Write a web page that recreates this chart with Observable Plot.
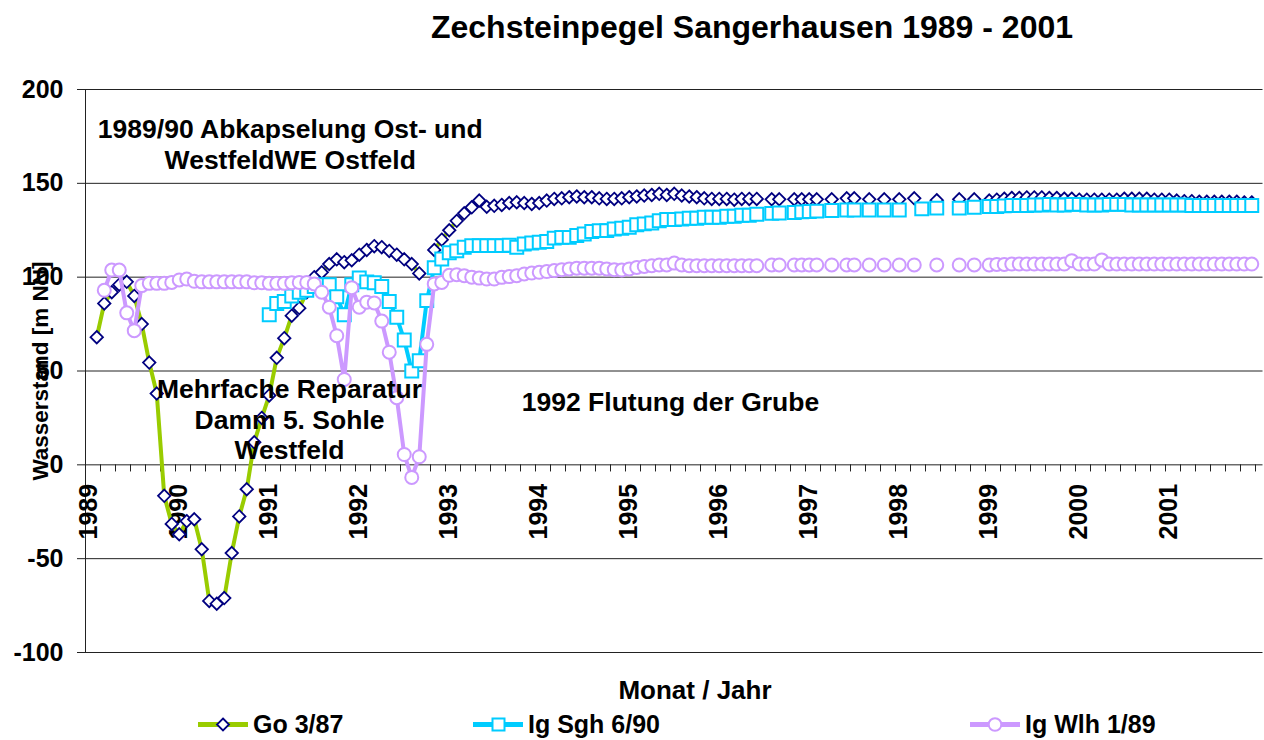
<!DOCTYPE html>
<html><head><meta charset="utf-8">
<script src="https://cdn.jsdelivr.net/npm/d3@7"></script>
<script src="https://cdn.jsdelivr.net/npm/@observablehq/plot@0.6"></script>
<style>
body{margin:0;background:#fff;font-family:"Liberation Sans",Arial,sans-serif;}
#wrap{position:relative;width:1264px;height:740px;overflow:hidden;}
.t{position:absolute;font-weight:bold;white-space:nowrap;color:#000;}
#title{left:0;width:1504px;text-align:center;top:11px;font-size:32px;line-height:32px;}
#xlabel{left:0;width:1390px;text-align:center;top:677px;font-size:26px;line-height:26px;}
.leg{position:absolute;top:712px;height:25px;display:flex;align-items:center;font-weight:bold;font-size:25px;line-height:25px;white-space:nowrap;}
.leg svg{margin-right:4px;}
#chart{position:absolute;left:0;top:0;}
</style></head><body>
<div id="wrap">
<div id="chart"></div>
<div id="title" class="t">Zechsteinpegel Sangerhausen 1989 - 2001</div>
<div id="xlabel" class="t">Monat / Jahr</div>
<div id="legend"></div>
</div>
<script>
// categories: months from January 1989 (index 0) to January 2002
const firstYear = 1989;
const nMonths = 157;
const yearLabels = ["1989","1990","1991","1992","1993","1994","1995","1996","1997","1998","1999","2000","2001"];
const yTicks = [-100, -50, 0, 50, 100, 150, 200];
const seriesNames = ["Go 3/87", "Ig Sgh 6/90", "Ig Wlh 1/89"];

// Wasserstand [m NN], one value per month (null = no measurement)
const go = [
 null,68,86,92,96,97.5,90,75,54.5,38,-16.5,-31.5,
 -37,-30,-29,-45,-72.5,-74,-71,-47,-27.5,-13,12,25,
 37,57,67.5,79.5,83.5,92,100,102.6,107,109.5,108,109,
 112,114.5,116.5,116,114,112,109.5,107,102,null,114.5,120,
 125,130,134,137.2,140.8,137.5,138,138.5,139.5,139.9,139.5,139,
 139.5,140.8,141.7,142,142.6,143,142.6,142.6,142,141.7,141.7,142,
 142.6,143,143.5,143.8,144.4,143.8,144.4,143.5,143,142.6,142,141.7,
 141.7,141.7,141.3,141.7,141.7,141.7,null,141.5,141.5,null,141.5,141.5,
 141.5,141.5,null,141.5,null,142,142,null,141.5,null,141.5,null,
 141.5,null,142,null,null,141,null,null,141.5,null,141.5,null,
 140.8,141.3,141.8,142.2,142.2,142.5,142.5,142.5,142.2,142.2,141.8,141.8,
 141.3,141.3,141.3,141.3,141.3,141.3,141.8,141.8,141.8,141.8,141.3,141.3,
 141.3,140.8,140.5,140.5,140.2,140.2,140.2,140.2,140.2,140.2,139.8,139.8,
 null
];
const sgh = [
 null,null,null,null,null,null,null,null,null,null,null,null,
 null,null,null,null,null,null,null,null,null,null,null,null,
 80,86,87,90,92,93,95,96,96,89.6,80,96,
 99.6,97.5,97,95,87,78.6,66.5,50,55.5,87.5,105,109.7,
 113,114,115.9,116.8,116.8,116.8,116.8,116.8,117,115.9,117.7,118.2,
 118.6,119,120.8,121.2,121.2,122.2,123,124.3,124.8,124.8,125.7,126.1,
 126.6,127.9,128.4,128.9,130.1,130.7,130.7,131,131.4,131.4,131.9,131.9,
 131.9,132.5,132.5,133,133,133.5,null,134,134.2,null,134.5,134.8,
 135,135.2,null,135.5,null,135.8,135.8,null,135.8,null,135.8,null,
 135.8,null,null,136.4,null,136.8,null,null,136.8,null,137.3,null,
 137.7,137.7,138,138.2,138.2,138.2,138.5,138.5,138.8,138.5,138.5,138.8,
 138.8,138.5,138.5,138.5,138.8,138.8,138.8,138.5,138.5,138.5,138.5,138.5,
 138.5,138.5,138.5,138.2,138.2,138.2,138.2,138.2,138.2,138.2,138.2,138.2,
 null
];
const wlh = [
 null,null,93,103.8,103.8,81,71.5,95.5,96.7,96.7,96.7,97.2,
 98.5,99,97.8,97.5,97.5,97.5,97.5,97.5,97.5,97.5,97,97,
 96.7,96.7,96.7,97,97.2,97.2,96.4,92,84,68.8,45.5,94.4,
 84,86.7,86.3,76.6,60,35.8,5.5,-6.7,4.3,64.2,96.4,97.2,
 101,101.3,100.8,100,99.5,99,99,99.9,100.3,100.8,101.7,102.2,
 102.6,103,103.5,104,104.4,104.8,104.8,104.8,104.8,104.4,104,103.8,
 104.4,105.2,105.7,106.1,106.5,106.5,107.5,106.5,106.1,106.1,106.1,106.1,
 106.1,106.1,106.1,106.1,106.1,106.1,null,106.5,106.5,null,106.5,106.5,
 106.5,106.5,null,106.5,null,106.5,106.5,null,106.5,null,106.5,null,
 106.5,null,106.5,null,null,106.5,null,null,106.5,null,106.5,null,
 106.5,106.8,106.8,107,107,107,107,107,107,107,107,108.8,
 107,107,107,109.2,107,107,107,107,107,107,107,107,
 107,107,107,107,107,107,107,107,107,107,107,107,
 null
];

const annotations = [
 {text: "1989/90 Abkapselung Ost- und\nWestfeldWE Ostfeld", month: 26.8, level: 171},
 {text: "Mehrfache Reparatur\nDamm 5. Sohle\nWestfeld", month: 26.7, level: 24.5},
 {text: "1992 Flutung der Grube", month: 77.5, level: 34}
];

const colors = {go: {line: "#99cc00", mark: "#000080"}, sgh: {line: "#00ccff", mark: "#00ccff"}, wlh: {line: "#cc99ff", mark: "#cc99ff"}};

const months = d3.range(nMonths);
const toRows = (vals) => months.map(m => ({m, v: vals[m] ?? NaN}));
const rows = {go: toRows(go), sgh: toRows(sgh), wlh: toRows(wlh)};
const defined = (key) => rows[key].filter(d => !isNaN(d.v));
const yearTicks = yearLabels.map((label, i) => ({m: i * 12, label}));
const minorTicks = d3.range(1.5, nMonths - 1, 2);

const font = "'Liberation Sans', Arial, sans-serif";
const symbols = {go: "diamond2", sgh: "square", wlh: "circle"};
const sizes = {go: 5.6, sgh: 7.3, wlh: 6.5};

function seriesMarks(key) {
  return [
    Plot.line(rows[key], {x: "m", y: "v", stroke: colors[key].line, strokeWidth: 4, curve: "linear"}),
    Plot.dot(defined(key), {x: "m", y: "v", symbol: () => symbols[key], r: sizes[key], fill: "white", stroke: colors[key].mark, strokeWidth: key === "go" ? 1.8 : 2})
  ];
}

const chart = Plot.plot({
  width: 1264,
  height: 740,
  marginLeft: 85,
  marginRight: 1.5,
  marginTop: 89,
  marginBottom: 88,
  style: {fontFamily: font, background: "white", overflow: "visible"},
  x: {type: "linear", domain: [-0.5, nMonths - 0.5], axis: null},
  y: {domain: [-100, 200], axis: null},
  symbol: {type: "identity"},
  marks: [
    Plot.ruleY(yTicks.filter(t => t !== 0), {stroke: "#222", strokeWidth: 1}),
    Plot.axisY({ticks: yTicks, tickSize: 8, tickPadding: 14, fontSize: 25, fontWeight: "bold", tickFormat: d => String(d).replace("−","-"), label: null, stroke: "#222"}),
    Plot.ruleX([-0.5], {stroke: "#222", strokeWidth: 1}),
    Plot.ruleY([0], {stroke: "#222", strokeWidth: 1}),
    Plot.ruleX(minorTicks, {y1: 0, y2: -3.8, stroke: "#222", strokeWidth: 1}),
    Plot.text(yearTicks, {x: "m", y: 0, text: "label", rotate: -90, textAnchor: "end", dy: 19, fontSize: 25, fontWeight: "bold", fill: "black"}),
    Plot.text(["Wasserstand [m NN]"], {frameAnchor: "left", textAnchor: "middle", rotate: -90, dx: -45, dy: 0, fontSize: 22.5, fontWeight: "bold", fill: "black"}),
    ...seriesMarks("go"),
    ...seriesMarks("sgh"),
    ...seriesMarks("wlh"),
    Plot.text(annotations, {x: "month", y: "level", text: "text", fontSize: 26.5, fontWeight: "bold", lineHeight: 1.15, fill: "black", textAnchor: "middle"})
  ]
});
document.getElementById("chart").appendChild(chart);

// legend
const legendItems = [
  {key: "go", name: seriesNames[0], left: 197},
  {key: "sgh", name: seriesNames[1], left: 472},
  {key: "wlh", name: seriesNames[2], left: 969}
];
const legend = document.getElementById("legend");
for (const it of legendItems) {
  const div = document.createElement("div");
  div.className = "leg";
  div.style.left = it.left + "px";
  const c = colors[it.key];
  let marker;
  if (it.key === "go") marker = `<path d="M26,6.5 L32,12.5 L26,18.5 L20,12.5 Z" fill="white" stroke="${c.mark}" stroke-width="1.8"/>`;
  else if (it.key === "sgh") marker = `<rect x="20.5" y="6.5" width="12" height="12" fill="white" stroke="${c.mark}" stroke-width="2"/>`;
  else marker = `<circle cx="26" cy="12.5" r="6.3" fill="white" stroke="${c.mark}" stroke-width="2"/>`;
  div.innerHTML = `<svg width="52" height="25"><line x1="1" x2="51" y1="12.5" y2="12.5" stroke="${c.line}" stroke-width="5"/>${marker}</svg><span>${it.name}</span>`;
  legend.appendChild(div);
}
</script>
</body></html>
